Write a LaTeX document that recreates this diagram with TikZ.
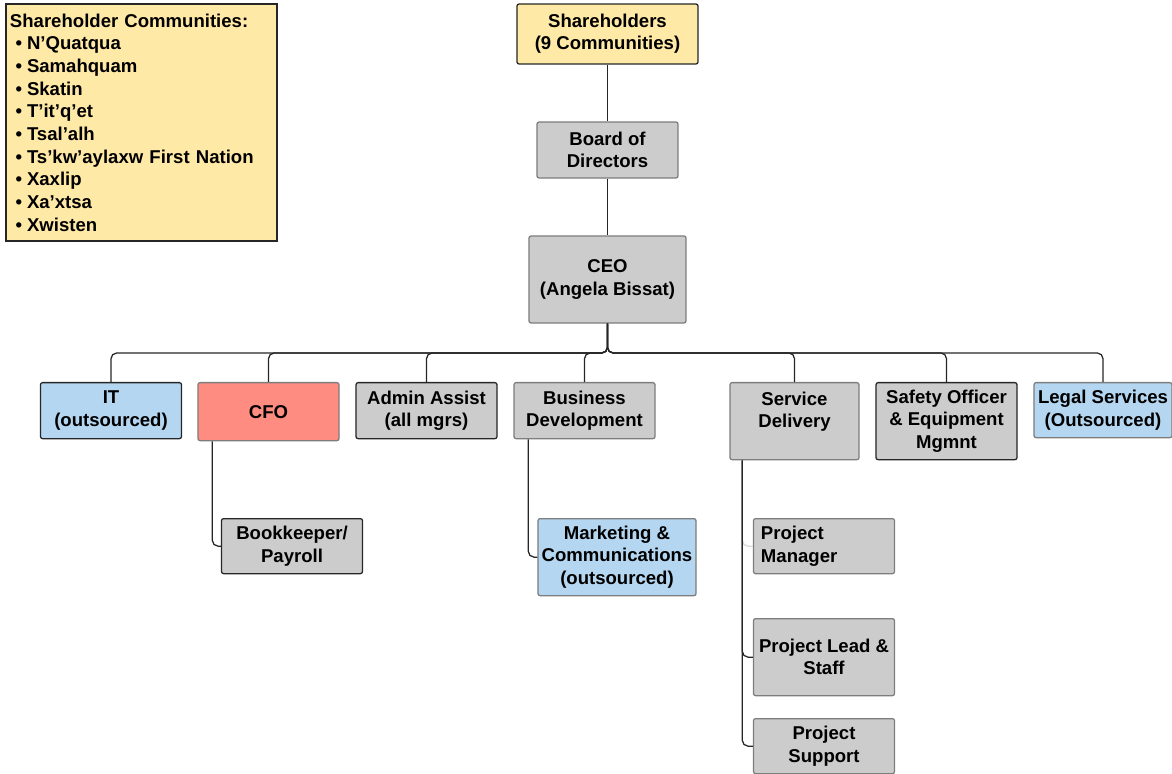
\documentclass[tikz,border=0pt]{standalone}
\usepackage{fontspec}
\setmainfont{Liberation Sans}
\usetikzlibrary{positioning,calc}
\definecolor{shYellow}{RGB}{255,233,166}
\definecolor{boxGray}{RGB}{204,204,204}
\definecolor{outBlue}{RGB}{180,214,240}
\definecolor{cfoRed}{RGB}{255,140,128}
\definecolor{edgeGray}{RGB}{125,125,125}

\tikzset{
  orgbox/.style={rectangle, rounded corners=1.5pt, draw=edgeGray, line width=0.9pt,
        fill=boxGray, minimum width=3.525cm, minimum height=1.4cm, align=center,
        inner sep=2pt, font=\fontsize{13.2}{15.8}\selectfont\bfseries},
  darkedge/.style={draw=black!85},
  link/.style={draw=black!85, line width=0.9pt, rounded corners=4pt},
}

\begin{document}
\begin{tikzpicture}[x=0.025cm, y=-0.025cm]
  \useasboundingbox (0,0) rectangle (1172,774);

  % communities list
  \node[orgbox, fill=shYellow, draw=black!85, line width=1.4pt, rounded corners=0pt,
        anchor=north west, minimum width=6.775cm, minimum height=5.925cm,
        inner sep=0.1cm, text width=6.575cm, align=left,
        font=\fontsize{13.2}{16.1}\selectfont\bfseries] (comms) at (5,3)
    {Shareholder Communities:\\
     \hspace{4pt}•\hspace{3.5pt}N’Quatqua\\
     \hspace{4pt}•\hspace{3.5pt}Samahquam\\
     \hspace{4pt}•\hspace{3.5pt}Skatin\\
     \hspace{4pt}•\hspace{3.5pt}T’it’q’et\\
     \hspace{4pt}•\hspace{3.5pt}Tsal’alh\\
     \hspace{4pt}•\hspace{3.5pt}Ts’kw’aylaxw First Nation\\
     \hspace{4pt}•\hspace{3.5pt}Xaxlip\\
     \hspace{4pt}•\hspace{3.5pt}Xa’xtsa\\
     \hspace{4pt}•\hspace{3.5pt}Xwisten};

  % top of the chart
  \node[orgbox, fill=shYellow, darkedge, minimum width=4.525cm, minimum height=1.5cm]
    (share) at (607.5,34) {Shareholders\\(9 Communities)};
  \node[orgbox] (board) at (607.5,150) {Board of\\Directors};
  \node[orgbox, minimum width=3.925cm, minimum height=2.175cm]
    (ceo) at (607.5,279.5) {CEO\\(Angela Bissat)};

  % managers row
  \node[orgbox, fill=outBlue, darkedge, anchor=north] (it) at (111,382) {IT\\(outsourced)};
  \node[orgbox, fill=cfoRed, anchor=north, minimum height=1.45cm] (cfo) at (268.5,382) {CFO};
  \node[orgbox, darkedge, anchor=north] (admin) at (426.5,382) {Admin Assist\\(all mgrs)};
  \node[orgbox, anchor=north] (busdev) at (584.5,382) {Business\\Development};
  \node[orgbox, anchor=north, minimum width=3.225cm, minimum height=1.925cm]
    (service) at (794.5,382) {Service\\Delivery\\~};
  \node[orgbox, darkedge, anchor=north, minimum height=1.925cm]
    (safety) at (946.5,382) {Safety Officer\\\& Equipment\\Mgmnt};
  \node[orgbox, fill=outBlue, anchor=north, minimum width=3.45cm, minimum height=1.375cm]
    (legal) at (1103,382) {Legal Services\\(Outsourced)};

  % staff
  \node[orgbox, darkedge, anchor=north, minimum height=1.375cm]
    (book) at (292,518) {Bookkeeper/\\Payroll};
  \node[orgbox, fill=outBlue, anchor=north, minimum width=3.95cm, minimum height=1.925cm]
    (mkt) at (617,518) {Marketing \&\\Communications\\(outsourced)};
  \node[orgbox, anchor=north, minimum height=1.375cm, text width=3.15cm, align=left]
    (pm) at (824,518) {Project\\Manager};
  \node[orgbox, anchor=north, minimum height=1.925cm]
    (pl) at (824,618) {Project Lead \&\\Staff};
  \node[orgbox, anchor=north, minimum height=1.375cm]
    (ps) at (824,718) {Project\\Support};

  % connectors
  \coordinate (bus) at (607.5,353);
  \draw[link] (share.south) -- (board.north);
  \draw[link] (board.south) -- (ceo.north);
  \foreach \n in {it,cfo,admin,busdev,service,safety,legal}
    \draw[link] (ceo.south) -- (bus) -| (\n.north);
  \draw[link] ($(cfo.south west)+(15,0)$) |- (book.west);
  \draw[link] ($(busdev.south west)+(15,0)$) |- (mkt.west);
  \draw[link, draw=black!15] ($(service.south west)+(13,0)$) |- (pm.west);
  \foreach \n in {pl,ps}
    \draw[link] ($(service.south west)+(13,0)$) |- (\n.west);
\end{tikzpicture}
\end{document}
